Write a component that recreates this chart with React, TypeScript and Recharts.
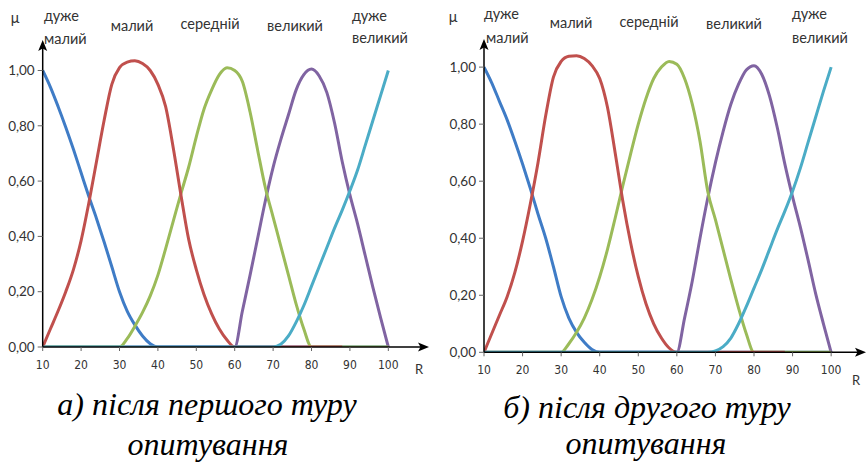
import React from "react";
import { LineChart, Line, XAxis, YAxis } from "recharts";

// ---------- Panel A (після першого туру) ----------
const blueAX = [10, 12, 14, 16, 18, 20, 22, 24, 26, 28, 30, 32, 34, 36, 38, 40, 100];
const blueAY = [1.0, 0.94, 0.87, 0.795, 0.715, 0.63, 0.545, 0.465, 0.38, 0.29, 0.2, 0.13, 0.08, 0.04, 0.012, 0, 0];
const redAX = [10, 12, 14, 16, 18, 20, 22, 24, 26, 28, 30, 32, 34, 36, 38, 40, 42, 44, 46, 48, 50, 52, 54, 56, 58, 60, 88];
const redAY = [0, 0.065, 0.13, 0.2, 0.28, 0.385, 0.52, 0.67, 0.82, 0.95, 1.01, 1.03, 1.035, 1.025, 1.0, 0.95, 0.87, 0.72, 0.55, 0.39, 0.28, 0.19, 0.12, 0.065, 0.025, 0, 0];
const greenAX = [10, 30, 32, 34, 36, 38, 40, 42, 44, 46, 48, 50, 52, 54, 56, 58, 60, 62, 64, 66, 68, 70, 72, 74, 76, 78, 80, 100];
const greenAY = [0, 0, 0.03, 0.075, 0.125, 0.185, 0.26, 0.355, 0.455, 0.555, 0.65, 0.76, 0.86, 0.93, 0.985, 1.01, 1.0, 0.96, 0.85, 0.71, 0.575, 0.47, 0.365, 0.26, 0.155, 0.065, 0, 0];
const purpleAX = [10, 60, 62, 64, 66, 68, 70, 72, 74, 76, 78, 80, 82, 84, 86, 88, 90, 92, 94, 96, 98, 100];
const purpleAY = [0, 0, 0.13, 0.26, 0.395, 0.53, 0.65, 0.75, 0.84, 0.93, 0.985, 1.005, 0.98, 0.92, 0.81, 0.67, 0.55, 0.445, 0.33, 0.215, 0.105, 0];
const cyanAX = [10, 70, 72, 74, 76, 78, 80, 82, 84, 86, 88, 90, 92, 94, 96, 98, 100];
const cyanAY = [0, 0, 0.01, 0.04, 0.09, 0.15, 0.22, 0.29, 0.36, 0.43, 0.495, 0.565, 0.64, 0.73, 0.82, 0.91, 1.0];

// ---------- Panel B (після другого туру) ----------
const blueBX = [10, 12, 14, 16, 18, 20, 22, 24, 26, 28, 30, 32, 34, 36, 38, 40, 100];
const blueBY = [1.0, 0.945, 0.88, 0.815, 0.74, 0.66, 0.575, 0.485, 0.4, 0.3, 0.195, 0.12, 0.07, 0.035, 0.01, 0, 0];
const redBX = [10, 12, 14, 16, 18, 20, 22, 24, 26, 28, 30, 32, 34, 36, 38, 40, 42, 44, 46, 48, 50, 52, 54, 56, 58, 60, 88];
const redBY = [0, 0.065, 0.13, 0.195, 0.28, 0.39, 0.52, 0.665, 0.83, 0.965, 1.02, 1.038, 1.04, 1.03, 1.005, 0.96, 0.86, 0.7, 0.53, 0.385, 0.265, 0.17, 0.1, 0.05, 0.015, 0, 0];
const greenBX = [10, 30, 32, 34, 36, 38, 40, 42, 44, 46, 48, 50, 52, 54, 56, 58, 60, 62, 64, 66, 68, 70, 72, 74, 76, 78, 80, 100];
const greenBY = [0, 0, 0.03, 0.07, 0.12, 0.185, 0.265, 0.36, 0.47, 0.585, 0.695, 0.8, 0.89, 0.96, 1.0, 1.02, 1.01, 0.96, 0.87, 0.74, 0.565, 0.465, 0.36, 0.255, 0.155, 0.065, 0, 0];
const purpleBX = [10, 60, 62, 64, 66, 68, 70, 72, 74, 76, 78, 80, 82, 84, 86, 88, 90, 92, 94, 96, 98, 100];
const purpleBY = [0, 0, 0.12, 0.25, 0.4, 0.54, 0.665, 0.775, 0.87, 0.94, 0.99, 1.005, 0.975, 0.9, 0.79, 0.66, 0.545, 0.44, 0.325, 0.205, 0.1, 0];
const cyanBX = [10, 68, 70, 72, 74, 76, 78, 80, 82, 84, 86, 88, 90, 92, 94, 96, 98, 100];
const cyanBY = [0, 0, 0.005, 0.02, 0.05, 0.1, 0.16, 0.225, 0.29, 0.36, 0.43, 0.495, 0.565, 0.645, 0.735, 0.825, 0.915, 1.0];

const xTicks = [10, 20, 30, 40, 50, 60, 70, 80, 90, 100];
const yTicks = [0, 0.2, 0.4, 0.6, 0.8, 1.0];
const termLabels = ["дуже малий", "малий", "середній", "великий", "дуже великий"];
const captionA = ["а) після першого туру", "опитування"];
const captionB = ["б) після другого туру", "опитування"];

const COLORS = {
  blue: "#3F7CC6",
  red: "#C0504D",
  green: "#9BBB59",
  purple: "#8064A2",
  cyan: "#4BACC6",
};

const zip = (xs: number[], ys: number[]) => xs.map((x, i) => ({ x, y: ys[i] }));

type Series = { key: string; color: string; data: { x: number; y: number }[] };

const seriesA: Series[] = [
  { key: "blue", color: COLORS.blue, data: zip(blueAX, blueAY) },
  { key: "purple", color: COLORS.purple, data: zip(purpleAX, purpleAY) },
  { key: "green", color: COLORS.green, data: zip(greenAX, greenAY) },
  { key: "red", color: COLORS.red, data: zip(redAX, redAY) },
  { key: "cyan", color: COLORS.cyan, data: zip(cyanAX, cyanAY) },
];
const seriesB: Series[] = [
  { key: "blue", color: COLORS.blue, data: zip(blueBX, blueBY) },
  { key: "purple", color: COLORS.purple, data: zip(purpleBX, purpleBY) },
  { key: "green", color: COLORS.green, data: zip(greenBX, greenBY) },
  { key: "red", color: COLORS.red, data: zip(redBX, redBY) },
  { key: "cyan", color: COLORS.cyan, data: zip(cyanBX, cyanBY) },
];

const fmtY = (v: number) => v.toFixed(2).replace(".", ",");

function Panel(props: {
  series: Series[];
  left: number;
  margin: { top: number; right: number; bottom: number; left: number };
  xMax: number;
  yMax: number;
}) {
  const { series, left, margin, xMax, yMax } = props;
  return (
    <div style={{ position: "absolute", left, top: 0 }}>
      <LineChart width={434} height={400} margin={margin}>
        <XAxis
          dataKey="x"
          type="number"
          domain={[10, xMax]}
          ticks={xTicks}
          interval={0}
          allowDataOverflow
          axisLine={{ stroke: "#000", strokeWidth: 1.5 }}
          tickLine={{ stroke: "#666" }}
          tickSize={4}
          tickMargin={9}
          height={30}
          tick={{ fill: "#333", fontSize: 12, fontFamily: "DejaVu Sans Condensed, DejaVu Sans", fontStretch: "condensed" }}
        />
        <YAxis
          dataKey="y"
          type="number"
          domain={[0, yMax]}
          ticks={yTicks}
          interval={0}
          allowDataOverflow
          width={40}
          axisLine={{ stroke: "#000", strokeWidth: 1.5 }}
          tickLine={{ stroke: "#666" }}
          tickSize={5}
          tickMargin={3}
          tickFormatter={fmtY}
          tick={{ fill: "#333", fontSize: 13.5, fontFamily: "Lato, Noto Sans, sans-serif" }}
        />
        {series.map((s) => (
          <Line
            key={s.key}
            data={s.data}
            dataKey="y"
            type="monotone"
            stroke={s.color}
            strokeWidth={3}
            dot={false}
            activeDot={false}
            isAnimationActive={false}
          />
        ))}
      </LineChart>
    </div>
  );
}

const labelFont: React.CSSProperties = {
  position: "absolute",
  fontFamily: "Lato, Noto Sans, sans-serif",
  fontSize: 14.5,
  color: "#333",
  whiteSpace: "nowrap",
  lineHeight: 1,
};

function C(x: number, y: number, text: string, extra?: React.CSSProperties) {
  return (
    <div key={text + x + y} style={{ ...labelFont, left: x, top: y, transform: "translate(-50%, -50%)", ...extra }}>
      {text}
    </div>
  );
}
function L(x: number, y: number, text: string, extra?: React.CSSProperties) {
  return (
    <div key={text + x + y} style={{ ...labelFont, left: x, top: y, transform: "translate(0, -50%)", ...extra }}>
      {text}
    </div>
  );
}

const captionStyle: React.CSSProperties = {
  position: "absolute",
  fontFamily: "'Liberation Serif', 'Times New Roman', serif",
  fontStyle: "italic",
  fontSize: 32,
  color: "#000",
  whiteSpace: "nowrap",
  lineHeight: 1,
  transform: "translate(-50%, 0)",
};

// arrow heads at the ends of the axis lines (decoration)
function Arrows() {
  return (
    <svg width={868} height={463} style={{ position: "absolute", left: 0, top: 0, pointerEvents: "none" }}>
      <path d="M42.7,40 L38.2,51 L42.7,48.5 L47.2,51 Z" fill="#000" />
      <path d="M429,347 L418,342.5 L420.5,347 L418,351.5 Z" fill="#000" />
      <path d="M484,39 L479.5,50 L484,47.5 L488.5,50 Z" fill="#000" />
      <path d="M866,352.3 L855,347.8 L857.5,352.3 L855,356.8 Z" fill="#000" />
    </svg>
  );
}

export default function App() {
  const [vmA, vsA] = termLabels[0].split(" ");
  const [vbA, vbB] = termLabels[4].split(" ");
  return (
    <div style={{ position: "absolute", left: 0, top: 0, width: 868, height: 463, background: "#fff", overflow: "hidden" }}>
      <Panel series={seriesA} left={0} margin={{ top: 45.6, right: 9.2, bottom: 23, left: 2.7 }} xMax={109.5} yMax={1.09} />
      <Panel series={seriesB} left={434} margin={{ top: 44.3, right: 6, bottom: 17.7, left: 10 }} xMax={108} yMax={1.08} />
      <Arrows />

      {/* Panel A labels */}
      {C(15, 18, "μ")}
      {L(44, 16, vmA)}
      {L(44, 39, vsA)}
      {C(132, 26, termLabels[1])}
      {C(210, 24, termLabels[2])}
      {C(295, 26, termLabels[3])}
      {L(352, 16, vbA)}
      {L(352, 38, vbB)}
      {C(419, 369, "R", { fontSize: 13 })}

      {/* Panel B labels */}
      {C(453, 17, "μ")}
      {L(484, 14, vmA)}
      {L(486, 38, vsA)}
      {C(571, 23, termLabels[1])}
      {C(649, 22, termLabels[2])}
      {C(734, 24, termLabels[3])}
      {L(792, 14, vbA)}
      {L(792, 38, vbB)}
      {C(856, 380, "R", { fontSize: 13 })}

      {/* Captions */}
      <div style={{ ...captionStyle, left: 207, top: 388 }}>{captionA[0]}</div>
      <div style={{ ...captionStyle, left: 208, top: 428 }}>{captionA[1]}</div>
      <div style={{ ...captionStyle, left: 647, top: 391 }}>{captionB[0]}</div>
      <div style={{ ...captionStyle, left: 646, top: 427 }}>{captionB[1]}</div>
    </div>
  );
}
